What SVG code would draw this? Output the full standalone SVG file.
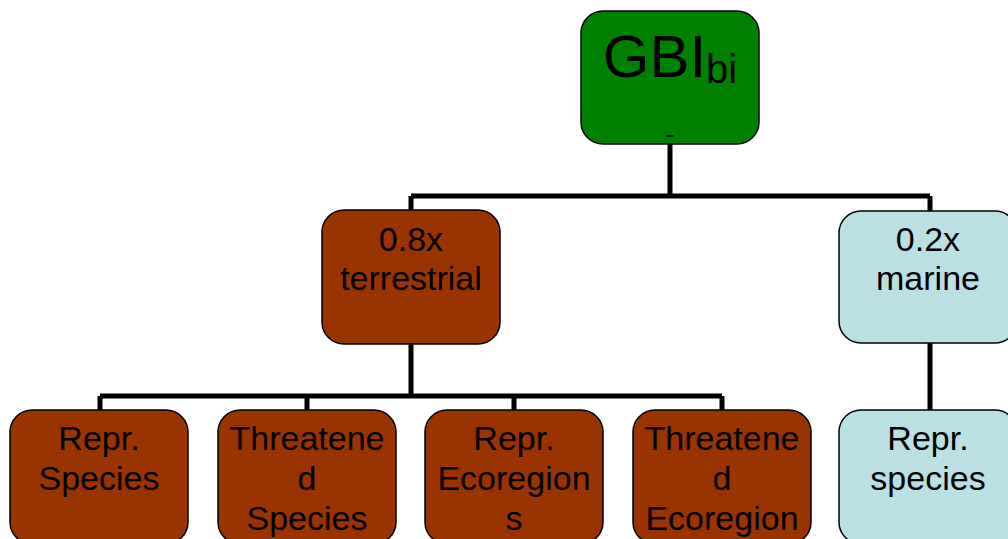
<svg xmlns="http://www.w3.org/2000/svg" width="1008" height="539" viewBox="0 0 1008 539">
<style>
.n{stroke:#000;stroke-width:1.5}
.g{fill:#008000}
.b{fill:#993300}
.m{fill:#BBE0E3}
.t{font-family:"Liberation Sans",Arial,sans-serif;font-size:34px;fill:#000;text-anchor:middle}
.c{fill:none;stroke:#000;stroke-width:5}
</style>
<rect width="1008" height="539" fill="#fff"/>
<g id="connectors">
<path class="c" d="M670 144V196M411 196H930M411 196V210M930 196V211"/>
<path class="c" d="M411 344V396M100 396H722M100 396V410M307 396V410M514 396V410M722 396V410"/>
<path class="c" d="M930 343V410"/>
</g>
<g id="gbi">
<rect class="n g" x="581" y="11" width="178" height="133" rx="22"/>
<text class="t" x="670" y="77" style="font-size:60px">GBI<tspan style="font-size:40px" dy="6">bi</tspan></text>
<line x1="666" y1="136" x2="674" y2="136" stroke="#000" stroke-width="1.5"/>
</g>
<g id="terrestrial">
<rect class="n b" x="322" y="210" width="178" height="134" rx="22"/>
<text class="t" x="411" y="251">0.8x</text>
<text class="t" x="411" y="290">terrestrial</text>
</g>
<g id="marine">
<rect class="n m" x="839" y="211" width="178" height="132" rx="22"/>
<text class="t" x="928" y="251">0.2x</text>
<text class="t" x="928" y="290">marine</text>
</g>
<g id="repr-species">
<rect class="n b" x="10" y="410" width="178" height="134" rx="22"/>
<text class="t" x="99" y="450">Repr.</text>
<text class="t" x="99" y="490">Species</text>
</g>
<g id="threatened-species">
<rect class="n b" x="218" y="410" width="178" height="134" rx="22"/>
<text class="t" x="307" y="450">Threatene</text>
<text class="t" x="307" y="490">d</text>
<text class="t" x="307" y="530">Species</text>
</g>
<g id="repr-ecoregions">
<rect class="n b" x="425" y="410" width="178" height="134" rx="22"/>
<text class="t" x="514" y="450">Repr.</text>
<text class="t" x="514" y="490">Ecoregion</text>
<text class="t" x="514" y="530">s</text>
</g>
<g id="threatened-ecoregion">
<rect class="n b" x="633" y="410" width="178" height="134" rx="22"/>
<text class="t" x="722" y="450">Threatene</text>
<text class="t" x="722" y="490">d</text>
<text class="t" x="722" y="530">Ecoregion</text>
</g>
<g id="marine-species">
<rect class="n m" x="839" y="410" width="178" height="134" rx="22"/>
<text class="t" x="928" y="450">Repr.</text>
<text class="t" x="928" y="490">species</text>
</g>
</svg>
